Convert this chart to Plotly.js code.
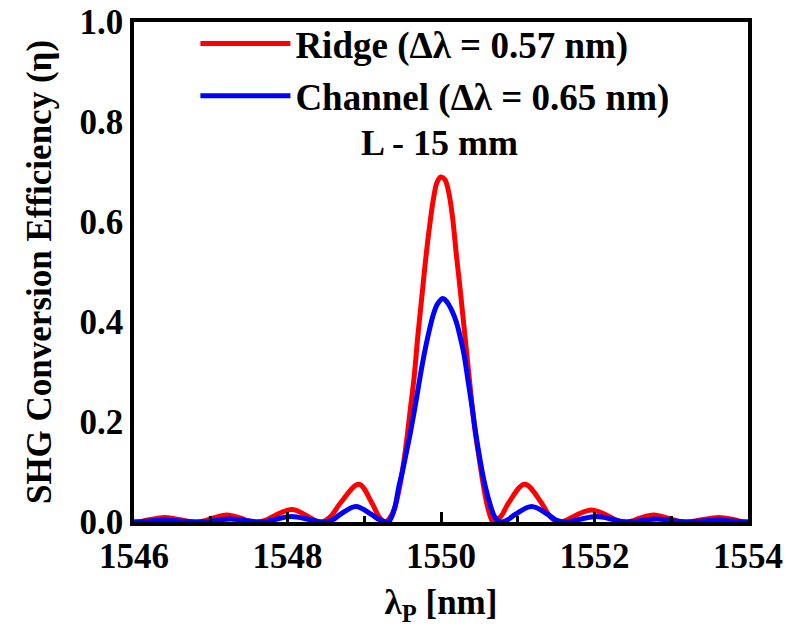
<!DOCTYPE html>
<html>
<head>
<meta charset="utf-8">
<script src="https://cdn.plot.ly/plotly-3.0.1.min.js"></script>
<style>html,body{margin:0;padding:0;background:#fff;font-family:'Liberation Serif';font-weight:bold;}#chart{width:789px;height:633px;}</style>
</head>
<body>
<div id="chart"></div>
<script>
// Wavelength (nm) and SHG efficiency
const ridgeWavelength = [
  1546.00, 1546.10, 1546.20, 1546.40, 1546.60, 1546.70, 1546.81,
  1546.91, 1547.01, 1547.21, 1547.40, 1547.50, 1547.60,
  1547.72, 1547.83, 1548.06, 1548.25, 1548.35, 1548.44,
  1548.56, 1548.69, 1548.93, 1549.10, 1549.19, 1549.27,
  1549.30, 1549.35, 1549.40, 1549.45, 1549.50, 1549.55, 1549.60, 1549.65,
  1549.70, 1549.75, 1549.80, 1549.85, 1549.90, 1549.95, 1550.00,
  1550.05, 1550.10, 1550.15, 1550.20, 1550.25, 1550.30, 1550.35, 1550.40,
  1550.45, 1550.50, 1550.55, 1550.60, 1550.65, 1550.68,
  1550.78, 1550.88, 1551.09, 1551.31, 1551.42, 1551.53,
  1551.63, 1551.74, 1551.96, 1552.18, 1552.29, 1552.40,
  1552.49, 1552.58, 1552.77, 1552.97, 1553.08, 1553.18,
  1553.29, 1553.40, 1553.62, 1553.82, 1553.91, 1554.00
];
const ridgeEfficiency = [
  0.000, 0.0013, 0.0045, 0.009, 0.0045, 0.0013, 0.000,
  0.002, 0.007, 0.014, 0.007, 0.002, 0.000,
  0.0037, 0.0125, 0.025, 0.0125, 0.0037, 0.000,
  0.011, 0.038, 0.0755, 0.038, 0.011, 0.000,
  0.002, 0.012, 0.030, 0.062, 0.105, 0.160, 0.225, 0.290,
  0.375, 0.450, 0.525, 0.590, 0.645, 0.680, 0.690,
  0.685, 0.660, 0.610, 0.535, 0.465, 0.390, 0.315, 0.240,
  0.175, 0.124, 0.075, 0.035, 0.008, 0.000,
  0.011, 0.038, 0.0755, 0.038, 0.011, 0.000,
  0.0035, 0.012, 0.024, 0.012, 0.0035, 0.000,
  0.002, 0.007, 0.014, 0.007, 0.002, 0.000,
  0.0013, 0.0045, 0.009, 0.0045, 0.0013, 0.000
];
const channelWavelength = [
  1546.00, 1546.10, 1546.20, 1546.40, 1546.60, 1546.72, 1546.85,
  1546.95, 1547.05, 1547.25, 1547.45, 1547.55, 1547.65,
  1547.75, 1547.85, 1548.05, 1548.27, 1548.38, 1548.49,
  1548.59, 1548.69, 1548.89, 1549.09, 1549.20, 1549.31,
  1549.35, 1549.40, 1549.45, 1549.50, 1549.55, 1549.60, 1549.65,
  1549.70, 1549.75, 1549.80, 1549.85, 1549.90, 1549.95, 1550.00, 1550.02,
  1550.05, 1550.10, 1550.15, 1550.20, 1550.25, 1550.30, 1550.35, 1550.40,
  1550.45, 1550.50, 1550.55, 1550.60, 1550.65, 1550.70, 1550.77,
  1550.87, 1550.97, 1551.18, 1551.39, 1551.49, 1551.59,
  1551.70, 1551.81, 1552.03, 1552.23, 1552.33, 1552.42,
  1552.52, 1552.62, 1552.81, 1553.00, 1553.10, 1553.20,
  1553.30, 1553.40, 1553.60, 1553.80, 1553.90, 1554.00
];
const channelEfficiency = [
  0.000, 0.0006, 0.002, 0.004, 0.002, 0.0006, 0.000,
  0.0009, 0.003, 0.006, 0.003, 0.0009, 0.000,
  0.0016, 0.0055, 0.011, 0.0055, 0.0016, 0.000,
  0.0045, 0.0155, 0.031, 0.0155, 0.0045, 0.000,
  0.008, 0.030, 0.070, 0.103, 0.140, 0.178, 0.220,
  0.265, 0.310, 0.350, 0.385, 0.415, 0.435, 0.445, 0.447,
  0.445, 0.435, 0.420, 0.400, 0.370, 0.335, 0.285, 0.235,
  0.180, 0.132, 0.090, 0.057, 0.030, 0.010, 0.000,
  0.0045, 0.0155, 0.031, 0.0155, 0.0045, 0.000,
  0.0016, 0.0055, 0.011, 0.0055, 0.0016, 0.000,
  0.0009, 0.003, 0.006, 0.003, 0.0009, 0.000,
  0.0006, 0.002, 0.004, 0.002, 0.0006, 0.000
];
const seriesNames = ['Ridge (Δλ = 0.57 nm)', 'Channel (Δλ = 0.65 nm)'];
const noteText = 'L - 15 mm';
const xTickValues = [1546, 1548, 1550, 1552, 1554];
const yTickValues = [0.0, 0.2, 0.4, 0.6, 0.8, 1.0];

const FONT = 'Liberation Serif';
const f = (s) => ({family: FONT, size: s || 35, weight: 'bold', color: '#000000'});

const traces = [
  {x: ridgeWavelength, y: ridgeEfficiency, name: seriesNames[0], type: 'scatter', mode: 'lines',
   line: {color: '#ff0000', width: 5, shape: 'spline', smoothing: 1.0}, legendgroup: 'a'},
  {x: channelWavelength, y: channelEfficiency, name: seriesNames[1], type: 'scatter', mode: 'lines',
   line: {color: '#0000ff', width: 5, shape: 'spline', smoothing: 1.0}, legendgroup: 'b'}
];

const layout = {
  width: 789, height: 633,
  margin: {l: 134, r: 41, t: 22, b: 111},
  paper_bgcolor: '#fff', plot_bgcolor: '#fff',
  showlegend: true,
  legend: {x: 0.1, y: 1.018, xanchor: 'left', yanchor: 'top', bgcolor: 'rgba(0,0,0,0)',
           font: f(37), itemwidth: 90, tracegroupgap: 1},
  xaxis: {
    range: [1546, 1554], tickvals: xTickValues, ticktext: xTickValues.map(String),
    ticks: 'inside', ticklen: 10, tickwidth: 3, tickcolor: '#000',
    minor: {dtick: 1, ticks: 'inside', ticklen: 6, tickwidth: 3, tickcolor: '#000'},
    showline: true, linewidth: 3.5, linecolor: '#000', mirror: true,
    showgrid: false, zeroline: false,
    tickfont: f(35),
    title: {text: 'λ<sub>P</sub> [nm]', font: f(35), standoff: 16}
  },
  yaxis: {
    range: [0, 1], tickvals: yTickValues, ticktext: yTickValues.map(v => v.toFixed(1)),
    ticks: '', showline: true, linewidth: 3.5, linecolor: '#000', mirror: true,
    showgrid: false, zeroline: false,
    tickfont: f(35),
    title: {text: 'SHG Conversion Efficiency (η)', font: f(35), standoff: 18}
  },
  annotations: [
    {text: noteText, xref: 'paper', yref: 'paper', x: 0.498, y: 0.802, showarrow: false, font: f(36)}
  ]
};

Plotly.newPlot('chart', traces, layout, {displayModeBar: false});
</script>
</body>
</html>
